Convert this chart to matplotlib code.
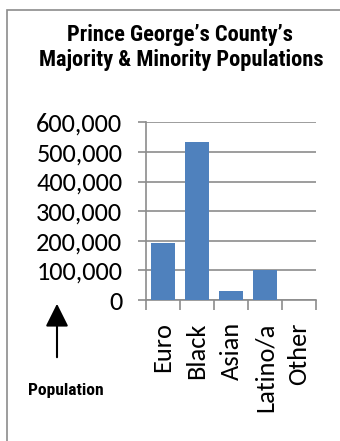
import matplotlib.pyplot as plt
from matplotlib import font_manager
from matplotlib.patches import Rectangle, FancyArrowPatch
from matplotlib.ticker import FuncFormatter, FixedLocator

categories = ["Euro", "Black", "Asian", "Latino/a", "Other"]
populations = [191000, 535000, 30000, 102000, 0]
y_ticks = [0, 100000, 200000, 300000, 400000, 500000, 600000]

W, H = 340, 441
fonts = font_manager.fontManager.ttflist
installed = set(f.name for f in fonts)


def has_bold(name):
    for f in fonts:
        if f.name == name and isinstance(f.weight, int) and f.weight >= 600:
            return True
        if f.name == name and f.weight in ("bold", "semibold", "demibold", "heavy", "black"):
            return True
    return False


# condensed bold face for the title, Calibri-like face for the axes
cond = [n for n in ["Roboto Condensed", "Fira Sans Condensed", "Archivo Narrow",
                    "Barlow Condensed", "IBM Plex Sans Condensed",
                    "Open Sans Condensed"] if n in installed and has_bold(n)]
cond_family = cond[:1] + ["DejaVu Sans"]
if "Carlito" in installed:
    body_family, body_size = ["Carlito", "DejaVu Sans"], 19
else:
    body_family, body_size = ["Open Sans", "DejaVu Sans"], 16.5

fig = plt.figure(figsize=(W / 100, H / 100), dpi=100)
renderer = fig.canvas.get_renderer()


def fit_text(xp, yp, s, width_px, **kw):
    # place text and scale it to a target pixel width
    t = fig.text(xp / W, 1 - yp / H, s, ha="center", va="center", fontsize=14, **kw)
    w = t.get_window_extent(renderer).width
    t.set_fontsize(14 * width_px / w)
    return t


# outer border (right/bottom edges run off the image)
fig.patches.append(Rectangle((7 / W, -0.05), 1.1, 1 - 10 / H + 0.05,
                             transform=fig.transFigure, fill=False,
                             edgecolor="#8c8c8c", linewidth=1.2))

fit_text(180, 35, "Prince George\u2019s County\u2019s", 226,
         family=cond_family, weight="bold")
fit_text(181, 60, "Majority & Minority Populations", 287,
         family=cond_family, weight="bold")

ax = fig.add_axes([146 / W, 1 - 300 / H, 170 / W, (300 - 122.3) / H])
x = range(len(categories))
ax.bar(x, populations, width=0.7, color="#4F81BD", zorder=3)
ax.set_xlim(-0.5, len(categories) - 0.5)
ax.set_ylim(0, 600000)
ax.set_yticks(y_ticks)
ax.yaxis.set_major_formatter(FuncFormatter(lambda v, p: f"{int(v):,}"))
ax.grid(axis="y", color="#8c8c8c", linewidth=1.2, zorder=0)
for s in ["top", "right"]:
    ax.spines[s].set_visible(False)
for s in ["left", "bottom"]:
    ax.spines[s].set_color("#8c8c8c")
    ax.spines[s].set_linewidth(1.2)

ax.set_xticks(list(x))
ax.set_xticklabels(categories, rotation=90, fontsize=body_size, family=body_family)
ax.tick_params(axis="x", which="major", length=0, pad=16)
ax.xaxis.set_minor_locator(FixedLocator([i - 0.5 for i in range(len(categories) + 1)]))
ax.tick_params(axis="x", which="minor", length=7, color="#8c8c8c", width=1.2)
ax.tick_params(axis="y", length=6, color="#8c8c8c", width=1.2,
               labelsize=body_size, pad=11)
for lbl in ax.get_yticklabels():
    lbl.set_family(body_family)

# arrow with label
fig.patches.append(FancyArrowPatch(
    (57 / W, 1 - 360 / H), (57 / W, 1 - 301 / H), transform=fig.transFigure,
    arrowstyle="-|>,head_length=14,head_width=7", color="black",
    linewidth=1.5, mutation_scale=1))
fit_text(66, 390, "Population", 76, family=cond_family, weight="bold")

fig.savefig("out.png", dpi=100)
